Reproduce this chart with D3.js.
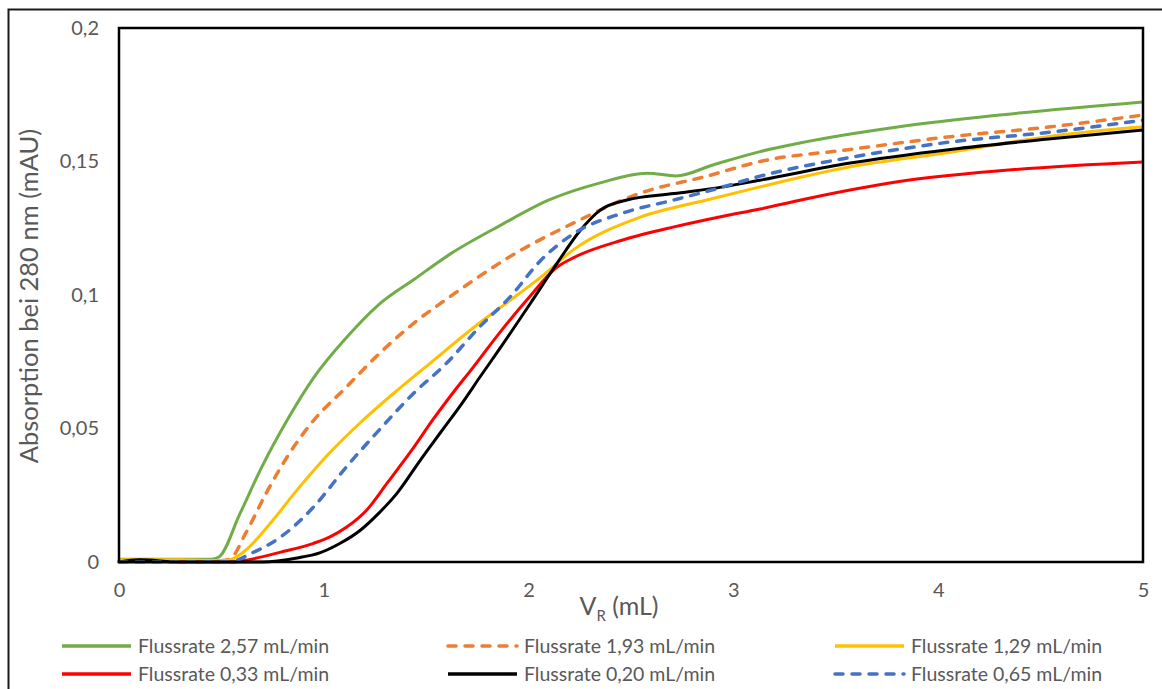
<!DOCTYPE html>
<html>
<head>
<meta charset="utf-8">
<script src="https://cdn.jsdelivr.net/npm/d3@7"></script>
<style>
  body { margin: 0; background: #fff; }
  svg text { font-family: Lato, "Open Sans", sans-serif; fill: #595959; }
</style>
</head>
<body>
<div id="chart"></div>
<script>
// volumes (mL) and absorption values, one pair of arrays per run
const vGreen = [0, 0.3, 0.45, 0.49, 0.59, 0.70, 0.82, 0.95, 1.11, 1.27, 1.44, 1.62, 1.86, 2.10, 2.35, 2.58, 2.72, 2.90, 3.13, 3.33, 3.81, 4.30, 5.0];
const aGreen = [0.001, 0.001, 0.001, 0.002, 0.018, 0.036, 0.053, 0.069, 0.084, 0.0965, 0.1058, 0.1155, 0.126, 0.1356, 0.142, 0.1456, 0.1446, 0.1487, 0.1537, 0.157, 0.163, 0.1674, 0.1723];

const vOrange = [0, 0.3, 0.5, 0.54, 0.62, 0.72, 0.835, 0.95, 1.11, 1.27, 1.44, 1.60, 1.75, 1.89, 2.22, 2.54, 2.87, 3.13, 3.57, 4.06, 4.55, 5.0];
const aOrange = [0.0005, 0.0005, 0.0005, 0.001, 0.011, 0.026, 0.041, 0.053, 0.0655, 0.078, 0.0895, 0.0985, 0.1065, 0.1135, 0.127, 0.138, 0.1445, 0.150, 0.1545, 0.1593, 0.163, 0.1674];

const vYellow = [0, 0.3, 0.5, 0.54, 0.62, 0.74, 0.87, 1.03, 1.19, 1.36, 1.52, 1.76, 1.91, 2.06, 2.22, 2.54, 2.87, 3.13, 3.57, 4.06, 4.55, 5.0];
const aYellow = [0.0008, 0.0008, 0.0006, 0.0008, 0.0045, 0.0146, 0.027, 0.041, 0.053, 0.0644, 0.0745, 0.0895, 0.098, 0.1067, 0.117, 0.129, 0.1356, 0.1405, 0.148, 0.1535, 0.1595, 0.163];

const vRed = [0, 0.3, 0.55, 0.62, 0.79, 0.95, 1.03, 1.11, 1.21, 1.31, 1.44, 1.53, 1.63, 1.73, 1.86, 1.99, 2.14, 2.22, 2.46, 2.71, 2.95, 3.13, 3.33, 3.81, 4.30, 5.0];
const aRed = [0, 0, 0, 0.0007, 0.0037, 0.007, 0.0094, 0.013, 0.0195, 0.0296, 0.043, 0.053, 0.0633, 0.073, 0.086, 0.098, 0.1105, 0.114, 0.1206, 0.1255, 0.1295, 0.1322, 0.1356, 0.1425, 0.1465, 0.1498];

const vBlack = [0, 0.1, 0.3, 0.6, 0.70, 0.87, 0.98, 1.08, 1.18, 1.27, 1.36, 1.47, 1.57, 1.68, 1.76, 1.86, 2.01, 2.14, 2.25, 2.35, 2.48, 2.71, 2.95, 3.13, 3.57, 4.06, 4.55, 5.0];
const aBlack = [0, 0.0008, 0, 0, 0, 0.0015, 0.0034, 0.007, 0.012, 0.0184, 0.026, 0.038, 0.0485, 0.060, 0.069, 0.080, 0.097, 0.112, 0.124, 0.1318, 0.1356, 0.138, 0.1405, 0.143, 0.1494, 0.1545, 0.1585, 0.1618];

const vBlue = [0, 0.3, 0.54, 0.65, 0.79, 0.95, 1.11, 1.27, 1.44, 1.60, 1.76, 1.91, 2.06, 2.22, 2.46, 2.71, 2.95, 3.13, 3.57, 4.06, 4.55, 5.0];
const aBlue = [0, 0, 0, 0.0034, 0.0094, 0.0206, 0.0356, 0.0494, 0.0633, 0.0745, 0.088, 0.0993, 0.113, 0.123, 0.1307, 0.1356, 0.1405, 0.1445, 0.1515, 0.1573, 0.161, 0.1655];

const seriesNames = ["Flussrate 2,57 mL/min", "Flussrate 1,93 mL/min", "Flussrate 1,29 mL/min",
                     "Flussrate 0,33 mL/min", "Flussrate 0,20 mL/min", "Flussrate 0,65 mL/min"];
const xTicks = [0, 1, 2, 3, 4, 5];
const yTicks = [0, 0.05, 0.1, 0.15, 0.2];

const series = [
    { name: seriesNames[0], v: vGreen, a: aGreen, color: "#70ad47", dash: null },
    { name: seriesNames[1], v: vOrange, a: aOrange, color: "#ed7d31", dash: "8,9" },
    { name: seriesNames[2], v: vYellow, a: aYellow, color: "#ffc000", dash: null },
    { name: seriesNames[3], v: vRed, a: aRed, color: "#ff0000", dash: null },
    { name: seriesNames[4], v: vBlack, a: aBlack, color: "#000000", dash: null },
    { name: seriesNames[5], v: vBlue, a: aBlue, color: "#4472c4", dash: "8,9" }
];

const width = 1162;
const height = 689;
const margin = { top: 28, right: 19, bottom: 127, left: 119 };
const plotW = width - margin.left - margin.right;
const plotH = height - margin.top - margin.bottom;

const svg = d3.select("#chart")
    .append("svg")
    .attr("width", width)
    .attr("height", height);

// outer chart border (right and bottom run off the picture)
svg.append("rect")
    .attr("x", 8.5).attr("y", 9.5)
    .attr("width", 1170).attr("height", 700)
    .attr("fill", "none")
    .attr("stroke", "#1a1a1a")
    .attr("stroke-width", 2);

const g = svg.append("g")
    .attr("transform", `translate(${margin.left}, ${margin.top})`);

const x = d3.scaleLinear().domain([0, 5]).range([0, plotW]);
const y = d3.scaleLinear().domain([0, 0.2]).range([plotH, 0]);

const fmt = d => String(d).replace(".", ",");

const xAxis = g.append("g")
    .attr("transform", `translate(0, ${plotH})`)
    .call(d3.axisBottom(x).tickValues(xTicks).tickSize(0).tickPadding(21).tickFormat(fmt));
xAxis.select(".domain").remove();
xAxis.selectAll("text").style("font-size", "20px").attr("fill", "#595959");

const yAxis = g.append("g")
    .call(d3.axisLeft(y).tickValues(yTicks).tickSize(0).tickPadding(20).tickFormat(fmt));
yAxis.select(".domain").remove();
yAxis.selectAll("text").style("font-size", "20px").attr("fill", "#595959");

g.append("clipPath").attr("id", "plotclip")
    .append("rect").attr("x", -3).attr("y", -3).attr("width", plotW + 3).attr("height", plotH + 6);

const line = d3.line()
    .x(d => x(d[0]))
    .y(d => y(d[1]))
    .curve(d3.curveMonotoneX);

series.forEach(s => {
    const pts = s.v.map((v, i) => [v, s.a[i]]);
    g.append("path")
        .datum(pts)
        .attr("clip-path", "url(#plotclip)")
        .attr("fill", "none")
        .attr("stroke", s.color)
        .attr("stroke-width", s.dash ? 3.5 : 3)
        .attr("stroke-linecap", s.dash ? "round" : "butt")
        .attr("stroke-linejoin", "round")
        .attr("stroke-dasharray", s.dash)
        .attr("d", line);
});

// plot frame
g.append("rect")
    .attr("width", plotW).attr("height", plotH)
    .attr("fill", "none")
    .attr("stroke", "#000")
    .attr("stroke-width", 2.5);

// axis titles
const xTitle = svg.append("text")
    .attr("x", margin.left + plotW / 2 - 12)
    .attr("y", 615)
    .attr("text-anchor", "middle")
    .style("font-size", "25px");
xTitle.append("tspan").text("V");
xTitle.append("tspan").attr("dy", 6).style("font-size", "15px").text("R");
xTitle.append("tspan").attr("dy", -6).text(" (mL)");

svg.append("text")
    .attr("transform", `translate(38, ${margin.top + plotH / 2 + 1}) rotate(-90)`)
    .attr("text-anchor", "middle")
    .style("font-size", "25.5px")
    .text("Absorption bei 280 nm (mAU)");

// legend, 3 columns x 2 rows
const legendX = [62, 448, 835];
const legendY = [646, 674];
series.forEach((s, i) => {
    const lx = legendX[i % 3];
    const ly = legendY[Math.floor(i / 3)];
    svg.append("line")
        .attr("x1", lx).attr("x2", lx + 69)
        .attr("y1", ly).attr("y2", ly)
        .attr("stroke", s.color)
        .attr("stroke-width", 3.5)
        .attr("stroke-linecap", s.dash ? "round" : "butt")
        .attr("stroke-dasharray", s.dash);
    svg.append("text")
        .attr("x", lx + 76)
        .attr("y", ly + 7)
        .style("font-size", "19.5px")
        .text(s.name);
});
</script>
</body>
</html>
